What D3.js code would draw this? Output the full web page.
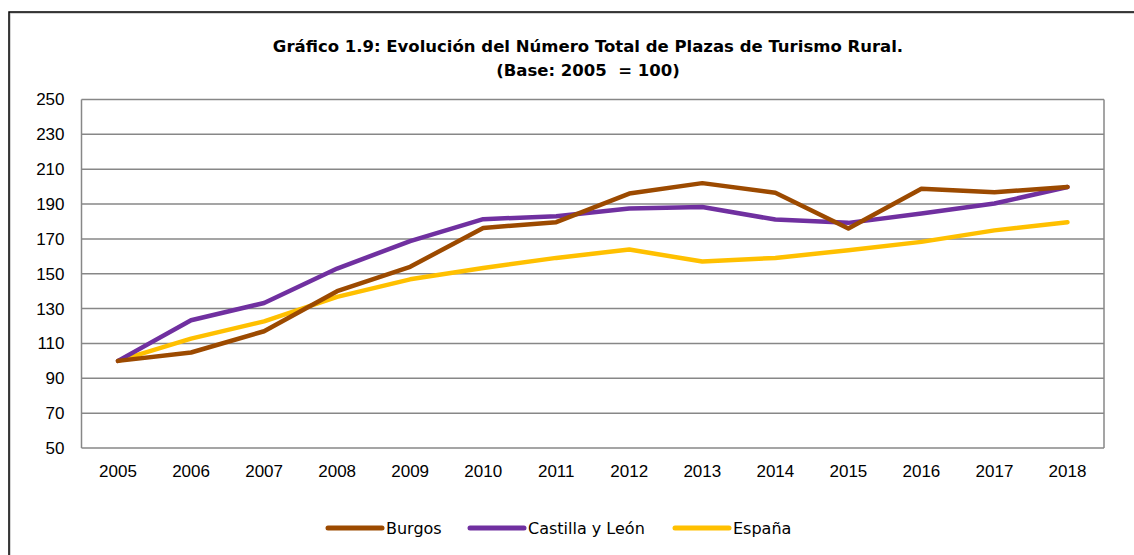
<!DOCTYPE html>
<html>
<head>
<meta charset="utf-8">
<script src="https://cdn.jsdelivr.net/npm/d3@7"></script>
<style>
  body { margin: 0; background: #fff; }
  svg { display: block; }
</style>
</head>
<body>
<div id="chart"></div>
<script>
// data
let years = ["2005","2006","2007","2008","2009","2010","2011","2012","2013","2014","2015","2016","2017","2018"];
let burgos   = [100, 104.8, 117, 140, 154, 176.3, 179.6, 196, 202, 196.5, 176, 198.8, 196.8, 199.8];
let castilla = [100, 123.3, 133.2, 153, 168.7, 181.3, 183, 187.4, 188.3, 181.1, 179.2, 184.6, 190.3, 199.8];
let espana   = [100, 112.8, 122.7, 136.7, 146.8, 153.3, 159.1, 163.9, 157, 159.1, 163.5, 168.3, 174.9, 179.6];
let seriesNames = ["Burgos", "Castilla y León", "España"];
let seriesColors = ["#9C4A00", "#7030A0", "#FFC000"];
let yTicks = [50, 70, 90, 110, 130, 150, 170, 190, 210, 230, 250];

let w = 1134, h = 555;
let svg = d3.select("#chart").append("svg").attr("width", w).attr("height", h);

// outer frame
svg.append("rect")
   .attr("x", 10).attr("y", 13)
   .attr("width", w).attr("height", h)
   .attr("fill", "none").attr("stroke", "#aaa").attr("stroke-width", 1);
svg.append("rect")
   .attr("x", 9).attr("y", 12)
   .attr("width", w).attr("height", h)
   .attr("fill", "none").attr("stroke", "#000").attr("stroke-width", 1.5);

// title
let title = svg.append("text")
   .attr("x", 588).attr("y", 52)
   .attr("text-anchor", "middle")
   .style("font-family", "'DejaVu Sans', sans-serif")
   .style("font-size", "16.5px")
   .style("font-weight", "bold")
   .style("white-space", "pre")
   .attr("fill", "#000");
title.append("tspan").attr("x", 588).attr("dy", 0).text("Gráfico 1.9: Evolución del Número Total de Plazas de Turismo Rural.");
title.append("tspan").attr("x", 588).attr("dy", 24).text("(Base: 2005  = 100)");

let plotL = 81.5, plotR = 1104, plotT = 99.5, plotB = 448;

let xScale = d3.scaleBand().domain(years).range([plotL, plotR]);
let yScale = d3.scaleLinear().domain([50, 250]).range([plotB, plotT]);

// gridlines
svg.append("g").selectAll("line").data(yTicks).enter().append("line")
   .attr("x1", plotL).attr("x2", plotR)
   .attr("y1", d => yScale(d)).attr("y2", d => yScale(d))
   .attr("stroke", "#878787").attr("stroke-width", 1.5);
// plot sides
svg.append("line").attr("x1", plotL).attr("x2", plotL).attr("y1", plotT).attr("y2", plotB)
   .attr("stroke", "#878787").attr("stroke-width", 1.5);
svg.append("line").attr("x1", plotR).attr("x2", plotR).attr("y1", plotT).attr("y2", plotB)
   .attr("stroke", "#878787").attr("stroke-width", 1.5);

// y axis
let yAxis = d3.axisLeft(yScale).tickValues(yTicks).tickSize(0).tickPadding(17);
let yAxisGroup = svg.append("g").attr("transform", "translate(" + plotL + ",0)").call(yAxis);
yAxisGroup.select(".domain").remove();
yAxisGroup.selectAll("text")
   .style("font-family", "'Liberation Sans Narrow', 'Arial Narrow', sans-serif")
   .style("font-size", "17px").attr("fill", "#000");

// x axis
let xAxis = d3.axisBottom(xScale).tickSize(0).tickPadding(17);
let xAxisGroup = svg.append("g").attr("transform", "translate(0," + plotB + ")").call(xAxis);
xAxisGroup.select(".domain").remove();
xAxisGroup.selectAll("text")
   .style("font-family", "'Liberation Sans Narrow', 'Arial Narrow', sans-serif")
   .style("font-size", "17px").attr("fill", "#000");

// lines
let allSeries = [burgos, castilla, espana];
let line = d3.line()
   .x((d, i) => xScale(years[i]) + xScale.bandwidth() / 2)
   .y(d => yScale(d));

// España at the back, Burgos on top
let drawOrder = [2, 1, 0];
drawOrder.forEach(function(k){
  svg.append("path")
     .datum(allSeries[k])
     .attr("d", line)
     .attr("fill", "none")
     .attr("stroke", seriesColors[k])
     .attr("stroke-width", 4.5)
     .attr("stroke-linejoin", "round")
     .attr("stroke-linecap", "round");
});

// legend
let legendX = [328, 470, 675];
let legend = svg.append("g");
seriesNames.forEach(function(name, i){
  legend.append("line")
     .attr("x1", legendX[i]).attr("x2", legendX[i] + 54)
     .attr("y1", 528).attr("y2", 528)
     .attr("stroke", seriesColors[i]).attr("stroke-width", 5)
     .attr("stroke-linecap", "round");
  legend.append("text")
     .attr("x", legendX[i] + 58).attr("y", 534)
     .style("font-family", "'DejaVu Sans', sans-serif")
     .style("font-size", "16px")
     .attr("fill", "#000")
     .text(name);
});
</script>
</body>
</html>
